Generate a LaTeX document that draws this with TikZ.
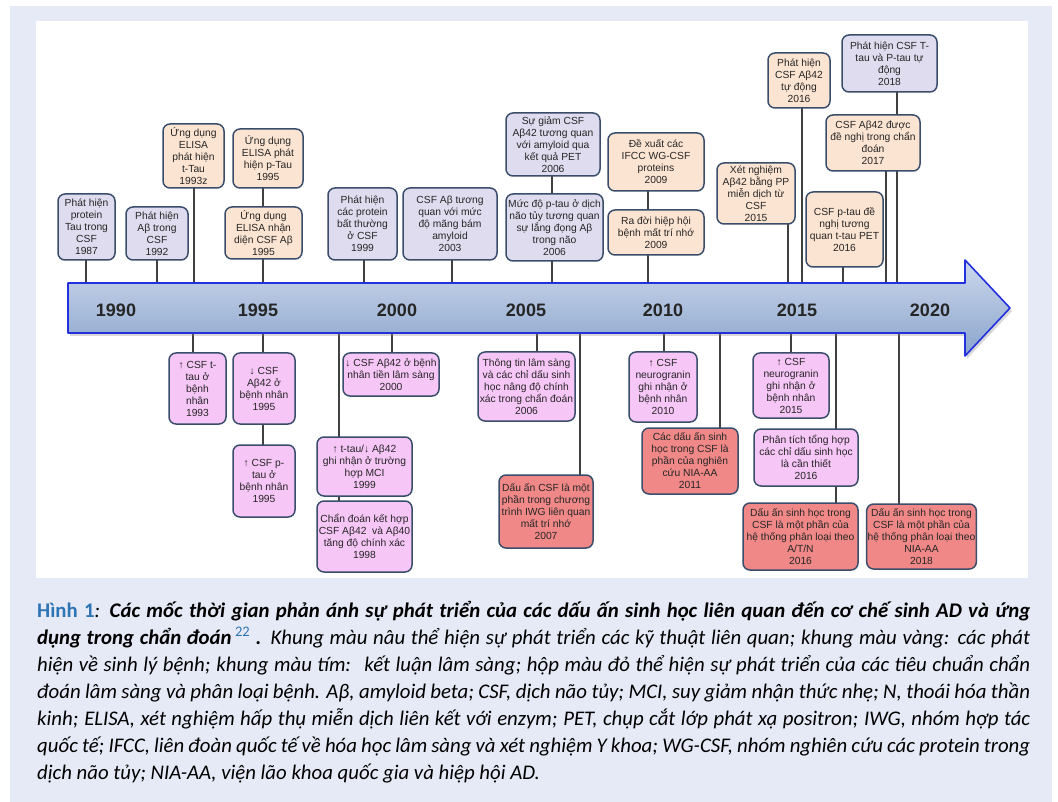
\documentclass[tikz,border=0pt]{standalone}
\usepackage{fontspec}
\setmainfont{Liberation Sans}
\newfontfamily\capfont{Carlito}
\usetikzlibrary{shadows}

\definecolor{pagebg}{RGB}{230,234,246}
\definecolor{boxline}{RGB}{58,78,108}
\definecolor{lavfill}{RGB}{222,220,238}
\definecolor{peachfill}{RGB}{252,228,210}
\definecolor{pinkfill}{RGB}{246,198,246}
\definecolor{redfill}{RGB}{240,136,136}
\definecolor{arrowblue}{RGB}{34,48,222}
\definecolor{captionblue}{RGB}{46,117,182}

\pgfdeclarelayer{back}
\pgfdeclarelayer{lines}
\pgfsetlayers{back,lines,main}

\tikzset{
  evt/.style={draw=boxline,line width=1.5pt,rounded corners=7pt,align=center,inner sep=1pt,
    text=black!85,font=\fontsize{10.3}{12}\selectfont},
  lavbox/.style={evt,fill=lavfill},
  peachbox/.style={evt,fill=peachfill},
  pinkbox/.style={evt,fill=pinkfill},
  redbox/.style={evt,fill=redfill},
  conn/.style={draw=black!75,line width=1.1pt},
  yearlbl/.style={font=\bfseries\fontsize{18}{18}\selectfont,text=black!85}
}

\begin{document}
\begin{tikzpicture}[x=1pt,y=-1pt]
\useasboundingbox (0,0) rectangle (1058,802);
\begin{pgfonlayer}{back}
\fill[white] (0,0) rectangle (1058,802);
\fill[pagebg] (10,6) rectangle (1052,802);
\fill[white] (36,21) rectangle (1028,578);
\end{pgfonlayer}

% events above the axis
\node[lavbox,minimum width=57pt,minimum height=66pt] (up87) at (86.5,227) {Phát hiện\\protein\\Tau trong\\CSF\\1987};
\node[lavbox,minimum width=62pt,minimum height=53pt] (up92) at (157,233.5) {Phát hiện\\Aβ trong\\CSF\\1992};
\node[peachbox,minimum width=61pt,minimum height=64pt] (up93) at (193.5,156) {Ứng dụng\\ELISA\\phát hiện\\t-Tau\\1993z};
\node[peachbox,minimum width=70pt,minimum height=59pt] (up95a) at (268,158.5) {Ứng dụng\\ELISA phát\\hiện p-Tau\\1995};
\node[peachbox,minimum width=77pt,minimum height=52pt] (up95b) at (263.5,233) {Ứng dụng\\ELISA nhận\\diện CSF Aβ\\1995};
\node[lavbox,minimum width=69pt,minimum height=72pt] (up99) at (362.5,224) {Phát hiện\\các protein\\bất thường\\ở CSF\\1999};
\node[lavbox,minimum width=94pt,minimum height=72pt] (up03) at (450,224) {CSF Aβ tương\\quan với mức\\độ mãng bám\\amyloid\\2003};
\node[lavbox,minimum width=94pt,minimum height=63pt] (up06a) at (553,144.5) {Sự giảm CSF\\Aβ42 tương quan\\với amyloid qua\\kết quả PET\\2006};
\node[lavbox,minimum width=97pt,minimum height=67pt] (up06b) at (554.5,227.5) {Mức độ p-tau ở dịch\\não tủy tương quan\\sự lắng đọng Aβ\\trong não\\2006};
\node[peachbox,minimum width=96pt,minimum height=58pt] (up09a) at (656,162) {Đề xuất các\\IFCC WG-CSF\\proteins\\2009};
\node[peachbox,minimum width=96pt,minimum height=45pt] (up09b) at (656,232.5) {Ra đời hiệp hội\\bệnh mất trí nhớ\\2009};
\node[peachbox,minimum width=78pt,minimum height=61pt] (up15) at (756,193.5) {Xét nghiệm\\Aβ42 bằng PP\\miễn dịch từ\\CSF\\2015};
\node[peachbox,minimum width=62pt,minimum height=55pt] (up16a) at (799,80.5) {Phát hiện\\CSF Aβ42\\tự động\\2016};
\node[lavbox,minimum width=95pt,minimum height=57pt] (up18) at (889.5,63.5) {Phát hiện CSF T-\\tau và P-tau tự\\động\\2018};
\node[peachbox,minimum width=94pt,minimum height=56pt] (up17) at (873,143) {CSF Aβ42 được\\đề nghị trong chẩn\\đoán\\2017};
\node[peachbox,minimum width=77pt,minimum height=75pt] (up16b) at (844.5,229.5) {CSF p-tau đề\\nghị tương\\quan t-tau PET\\2016};

% events below the axis
\node[pinkbox,minimum width=57pt,minimum height=71pt] (dn93) at (197.5,388.5) {↑ CSF t-\\tau ở\\bệnh\\nhân\\1993};
\node[pinkbox,minimum width=62pt,minimum height=71pt] (dn95a) at (264,388.5) {↓ CSF\\Aβ42 ở\\bệnh nhân\\1995};
\node[pinkbox,minimum width=62pt,minimum height=72pt] (dn95b) at (264,481) {↑ CSF p-\\tau ở\\bệnh nhân\\1995};
\node[pinkbox,minimum width=96pt,minimum height=43pt] (dn00) at (391,374.5) {↓ CSF Aβ42 ở bệnh\\nhân tiền lâm sàng\\2000};
\node[pinkbox,minimum width=95pt,minimum height=59pt] (dn99) at (364.5,466.5) {↑ t-tau/↓ Aβ42\\ghi nhận ở trường\\hợp MCI\\1999};
\node[pinkbox,minimum width=95pt,minimum height=71pt] (dn98) at (364.5,536.5) {Chẩn đoán kết hợp\\CSF Aβ42~ và Aβ40\\tăng độ chính xác\\1998};
\node[pinkbox,minimum width=97pt,minimum height=69pt] (dn06) at (526.5,386.5) {Thông tin lâm sàng\\và các chỉ dấu sinh\\học nâng độ chính\\xác trong chẩn đoán\\2006};
\node[redbox,minimum width=94pt,minimum height=73pt] (dn07) at (546,511.5) {Dấu ấn CSF là một\\phần trong chương\\trình IWG liên quan\\mất trí nhớ\\2007};
\node[pinkbox,minimum width=68pt,minimum height=70pt] (dn10) at (663,387) {↑ CSF\\neurogranin\\ghi nhận ở\\bệnh nhân\\2010};
\node[redbox,minimum width=96pt,minimum height=66pt] (dn11) at (690,461) {Các dấu ấn sinh\\học trong CSF là\\phần của nghiên\\cứu NIA-AA\\2011};
\node[pinkbox,minimum width=76pt,minimum height=65pt] (dn15) at (791,385.5) {↑ CSF\\neurogranin\\ghi nhận ở\\bệnh nhân\\2015};
\node[pinkbox,minimum width=104pt,minimum height=57pt] (dn16a) at (806,457.5) {Phân tích tổng hợp\\các chỉ dấu sinh học\\là cần thiết\\2016};
\node[redbox,minimum width=115pt,minimum height=67pt] (dn16b) at (800.5,536.5) {Dấu ấn sinh học trong\\CSF là một phần của\\hệ thống phân loại theo\\A/T/N\\2016};
\node[redbox,minimum width=107pt,minimum height=65pt] (dn18) at (921.5,536.5) {Dấu ấn sinh học trong\\CSF là một phần của\\hệ thống phân loại theo\\NIA-AA\\2018};

% where the stems meet the arrow
\foreach \n/\x in {87/86,92/157,93/194,95/263,99/364,03/452,06/552,09/648,15/788,16a/802,16b/843,17/886,18/897}
  \coordinate (tu\n) at (\x,283);
\foreach \n/\x in {93/193,95/263,99/339,00/392,06/537,07/580,10/664,11/720,15/791,16/836,18/899}
  \coordinate (td\n) at (\x,333);

\begin{pgfonlayer}{lines}
\draw[conn] (up87 -| tu87) -- (tu87);
\draw[conn] (up92 -| tu92) -- (tu92);
\draw[conn] (up93 -| tu93) -- (tu93);
\draw[conn] (up95a -| tu95) -- (tu95);
\draw[conn] (up99 -| tu99) -- (tu99);
\draw[conn] (up03 -| tu03) -- (tu03);
\draw[conn] (up06a -| tu06) -- (tu06);
\draw[conn] (up09a -| tu09) -- (tu09);
\draw[conn] (up15 -| tu15) -- (tu15);
\draw[conn] (up16a -| tu16a) -- (tu16a);
\draw[conn] (up16b -| tu16b) -- (tu16b);
\draw[conn] (up17 -| tu17) -- (tu17);
\draw[conn] (up18 -| tu18) -- (tu18);
\draw[conn] (dn93 -| td93) -- (td93);
\draw[conn] (dn95b -| td95) -- (td95);
\draw[conn] (dn98 -| td99) -- (td99);
\draw[conn] (dn00 -| td00) -- (td00);
\draw[conn] (dn06 -| td06) -- (td06);
\draw[conn] (dn07 -| td07) -- (td07);
\draw[conn] (dn10 -| td10) -- (td10);
\draw[conn] (dn11 -| td11) -- (td11);
\draw[conn] (dn15 -| td15) -- (td15);
\draw[conn] (dn16b -| td16) -- (td16);
\draw[conn] (dn18 -| td18) -- (td18);
\end{pgfonlayer}

% the time axis
\path[draw=arrowblue,line width=1.6pt,line join=round,top color={rgb,255:red,204;green,216;blue,236},
  bottom color={rgb,255:red,138;green,164;blue,204},drop shadow={opacity=.3,shadow xshift=2pt,shadow yshift=-3pt}]
  (68,283) -- (965,283) -- (965,260) -- (1010,308) -- (965,356) -- (965,333) -- (68,333) -- cycle;
\node[yearlbl] (y1990) at (116,310) {1990};
\node[yearlbl] (y1995) at (258,310) {1995};
\node[yearlbl] (y2000) at (397,310) {2000};
\node[yearlbl] (y2005) at (526,310) {2005};
\node[yearlbl] (y2010) at (663,310) {2010};
\node[yearlbl] (y2015) at (797,310) {2015};
\node[yearlbl] (y2020) at (930,310) {2020};

% caption
\node[anchor=north west,text width=993pt,align=justify,inner sep=0pt,
  font=\capfont\itshape\fontsize{20.8}{27}\selectfont] (caption) at (37,601)
{{\color{captionblue}\upshape\bfseries Hình 1}: {\bfseries Các mốc thời gian phản ánh sự phát triển của các dấu ấn sinh học liên quan đến cơ chế sinh AD và ứng\linebreak dụng trong chẩn đoán}\,\textsuperscript{\color{captionblue}\upshape 22}\ \textbf{.} Khung màu nâu thể hiện sự phát triển các kỹ thuật liên quan; khung màu vàng: các phát\linebreak hiện về sinh lý bệnh; khung màu tím:~ kết luận lâm sàng; hộp màu đỏ thể hiện sự phát triển của các tiêu chuẩn chẩn\linebreak đoán lâm sàng và phân loại bệnh. Aβ, amyloid beta; CSF, dịch não tủy; MCI, suy giảm nhận thức nhẹ; N, thoái hóa thần\linebreak kinh; ELISA, xét nghiệm hấp thụ miễn dịch liên kết với enzym; PET, chụp cắt lớp phát xạ positron; IWG, nhóm hợp tác\linebreak quốc tế; IFCC, liên đoàn quốc tế về hóa học lâm sàng và xét nghiệm Y khoa; WG-CSF, nhóm nghiên cứu các protein trong\linebreak dịch não tủy; NIA-AA, viện lão khoa quốc gia và hiệp hội AD.};
\end{tikzpicture}
\end{document}
